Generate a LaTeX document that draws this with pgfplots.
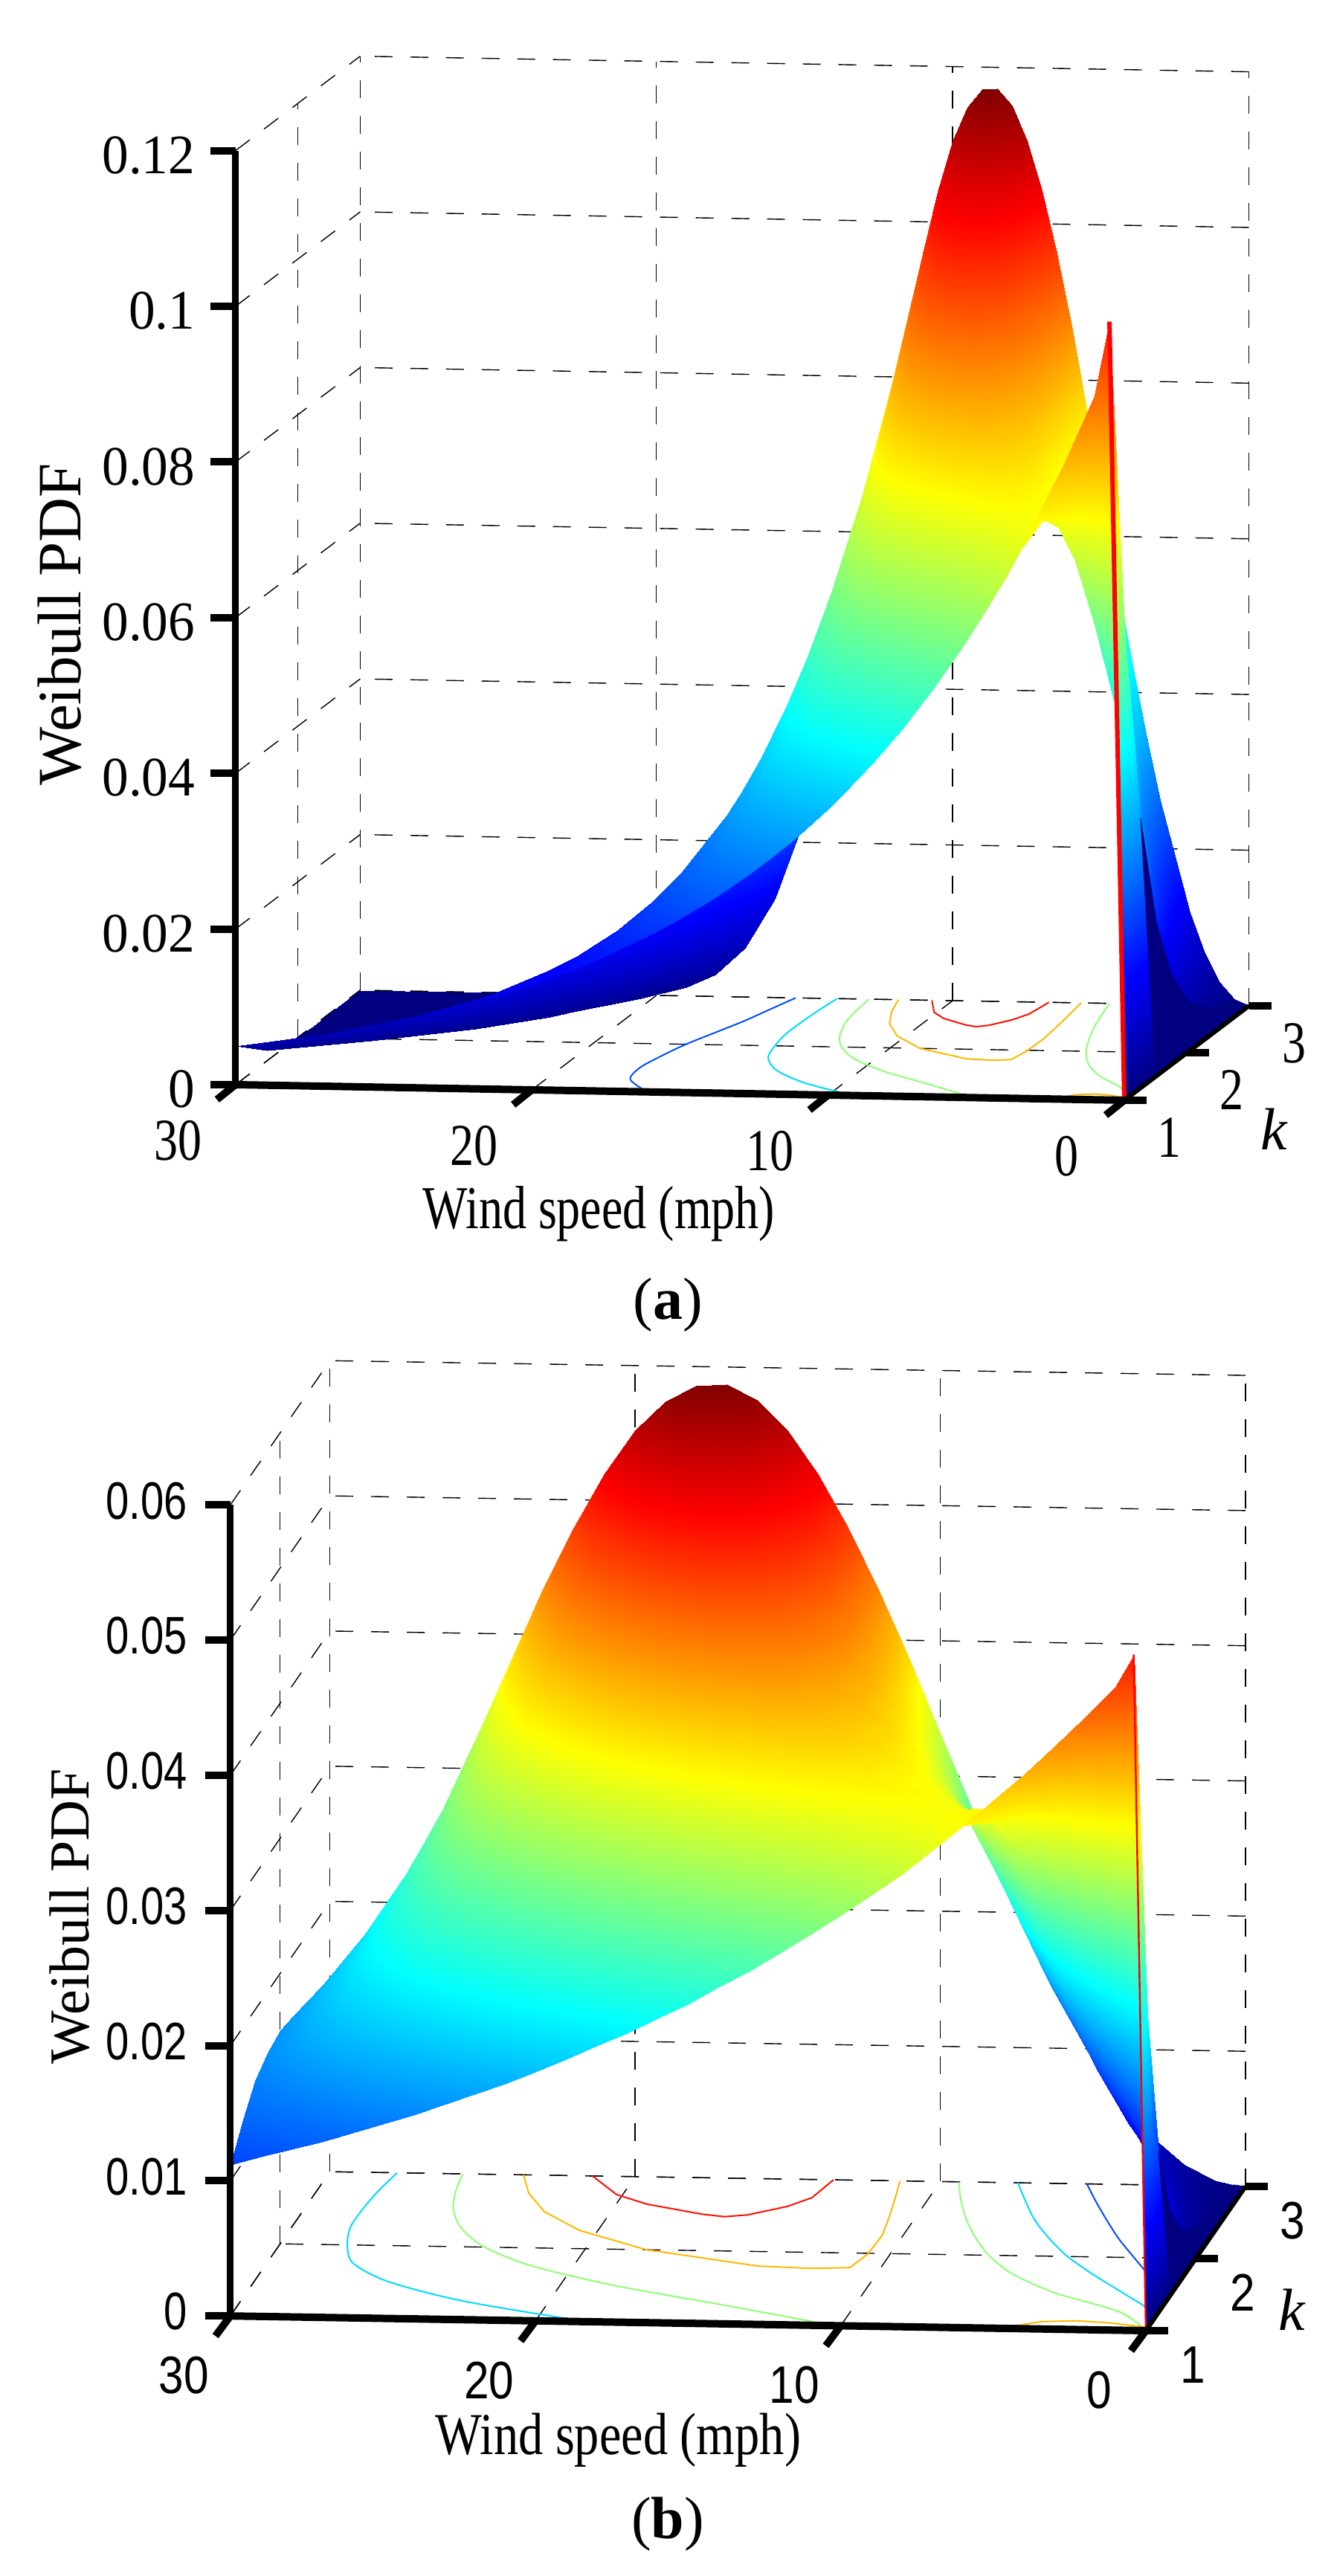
\documentclass[border=0pt]{standalone}
\usepackage{fontspec}
\setmainfont{Liberation Serif}
\newfontfamily\tickaz[FakeStretch=0.95]{Liberation Serif}
\newfontfamily\ticka[FakeStretch=0.8]{Liberation Serif}
\newfontfamily\tickb[FakeStretch=0.85]{Liberation Sans}
\newfontfamily\tickbz[FakeStretch=0.79]{Liberation Sans}
\newfontfamily\labx[FakeStretch=0.78]{Liberation Serif}
\newfontfamily\labxb[FakeStretch=0.83]{Liberation Serif}
\usepackage{pgfplots}
\pgfplotsset{compat=1.18}

\definecolor{cblue}{rgb}{0,0.3,1}
\definecolor{ccyan}{rgb}{0,0.85,1}
\definecolor{cgreen}{rgb}{0.55,1,0.45}
\definecolor{corange}{rgb}{1,0.72,0}
\definecolor{cred}{rgb}{1,0.05,0}

\pgfplotsset{
  weibull/.style={
    clip=false,
    x dir=reverse,
    xmin=0, xmax=30, ymin=1, ymax=3,
    xtick={0,10,20,30}, ytick={1,2,3},
    xticklabels={0,10,20,30}, yticklabels={1,2,3},
    scaled ticks=false,
    colormap/jet,
    grid=major,
    grid style={black, line width=0.7pt, dash pattern=on 12pt off 12pt},
    axis line style={draw=none},
    tick align=outside,
    major tick length=16pt,
    tick style={draw=none},
    anchor=origin,
  },
  wsurf/.style={surf, shader=interp, z buffer=sort, point meta=z},
  navy/.style={surf, shader=flat, mesh/cols=2, point meta={0}},
}

\begin{document}
\begin{tikzpicture}
\path[use as bounding box] (0,0) rectangle (897pt,1732.5pt);

% panel a
\begin{axis}[
  weibull,
  at={(756pt,992.5pt)},
  x={(19.92pt,-0.35pt)}, y={(41.9pt,31.75pt)}, z={(0pt,5235pt)},
  zmin=0, zmax=0.12,
  ztick={0,0.02,0.04,0.06,0.08,0.1,0.12},
  zticklabels={0,0.02,0.04,0.06,0.08,0.1,0.12},
  xticklabel style={font=\fontsize{40}{44}\selectfont\ticka, xshift=-17.5pt, yshift=-11pt},
  yticklabel style={font=\fontsize{40}{44}\selectfont\ticka, yshift=-10pt},
  zticklabel style={font=\fontsize{37.5}{44}\selectfont\tickaz, anchor=east, xshift=-11pt, yshift=6.5pt},
  xlabel={Wind speed (mph)}, ylabel={\textit{k}}, zlabel={Weibull PDF},
  xlabel style={font=\fontsize{41}{44}\selectfont\labx, xshift=-8.5pt, yshift=11pt},
  ylabel style={font=\fontsize{40}{44}\selectfont, xshift=-1pt, yshift=10pt},
  zlabel style={font=\fontsize{41.5}{44}\selectfont, xshift=31pt, yshift=9.5pt},
]
\addplot3[cblue, line width=1pt, smooth] coordinates {(16.1,1,0)(17.2,1.25,0)(17.4,1.5,0)(17.2,1.75,0)(16.9,2,0)(16.45,2.25,0)(16,2.5,0)(15.65,2.75,0)(15.3,3,0)};
\addplot3[cblue, line width=1pt, smooth] coordinates {(0,1,0)(0.01,1.25,0)(0.18,1.5,0)(0.56,1.75,0)(1.01,2,0)(1.46,2.25,0)(1.86,2.5,0)(2.24,2.75,0)(2.6,3,0)};
\addplot3[ccyan, line width=1pt, smooth] coordinates {(9.16,1,0)(11.35,1.25,0)(12.8,1.5,0)(13.6,1.75,0)(13.9,2,0)(14.05,2.25,0)(14.05,2.5,0)(14,2.75,0)(13.9,3,0)};
\addplot3[ccyan, line width=1pt, smooth] coordinates {(0,1,0)(0.11,1.25,0)(0.76,1.5,0)(1.46,1.75,0)(2.1,2,0)(2.61,2.25,0)(3.05,2.5,0)(3.4,2.75,0)(3.73,3,0)};
\addplot3[cgreen, line width=1pt, smooth] coordinates {(5.1,1,0)(7.06,1.25,0)(9.1,1.5,0)(10.66,1.75,0)(11.65,2,0)(12.23,2.25,0)(12.57,2.5,0)(12.74,2.75,0)(12.82,3,0)};
\addplot3[cgreen, line width=1pt, smooth] coordinates {(0,1,0)(0.63,1.25,0)(1.9,1.5,0)(2.8,1.75,0)(3.39,2,0)(3.82,2.25,0)(4.17,2.5,0)(4.46,2.75,0)(4.7,3,0)};
\addplot3[corange, line width=1pt] coordinates {(2.23,1,0)(2.1,1.05,0)(1.8,1.1,0)(1.25,1.12,0)(0.7,1.1,0)(0.05,1.05,0)(0,1,0)};
\addplot3[corange, line width=1pt] coordinates {(5.66,3,0)(5.54,2.75,0)(5.43,2.5,0)(5.34,2.25,0)(5.36,2,0)(5.5,1.8,0)(6.1,1.78,0)(7,1.8,0)(9,2,0)(10.3,2.25,0)(11.08,2.5,0)(11.54,2.75,0)(11.83,3,0)};
\addplot3[cred, line width=1pt] coordinates {(6.75,3,0)(6.9,2.75,0)(7.2,2.625,0)(7.75,2.5,0)(8.1,2.47,0)(8.5,2.5,0)(9.5,2.625,0)(10.1,2.75,0)(10.7,3,0)};

\addplot3[wsurf, mesh/cols=39] coordinates {
(0,1,0)(0.5,1,0.1000)(1,1,0.0905)(1.5,1,0.0861)(2,1,0.0819)(3,1,0.0741)(3.5,1,0.0705)(4,1,0.0670)(4.5,1,0.0638)(5,1,0.0607)(5.5,1,0.0577)(6,1,0.0549)(6.5,1,0.0522)(7,1,0.0497)(7.5,1,0.0472)(8,1,0.0449)(8.5,1,0.0427)(9,1,0.0407)(9.5,1,0.0387)(10,1,0.0368)(10.5,1,0.0350)(11,1,0.0333)(11.5,1,0.0317)(12,1,0.0301)(12.5,1,0.0287)(13,1,0.0273)(13.5,1,0.0259)(14,1,0.0247)(14.5,1,0.0235)(15,1,0.0223)(16,1,0.0202)(17,1,0.0183)(18,1,0.0165)(19,1,0.0150)(20,1,0.0135)(22,1,0.0111)(24,1,0.0091)(27,1,0.0067)(30,1,0.0050)

(0,1.25,0)(0.5,1.25,0.0577)(1,1.25,0.0664)(1.5,1.25,0.0708)(2,1.25,0.0731)(3,1.25,0.0741)(3.5,1.25,0.0734)(4,1.25,0.0723)(4.5,1.25,0.0707)(5,1.25,0.0691)(5.5,1.25,0.0669)(6,1.25,0.0649)(6.5,1.25,0.0626)(7,1.25,0.0603)(7.5,1.25,0.0580)(8,1.25,0.0555)(8.5,1.25,0.0530)(9,1.25,0.0506)(9.5,1.25,0.0482)(10,1.25,0.0460)(10.5,1.25,0.0436)(11,1.25,0.0415)(11.5,1.25,0.0394)(12,1.25,0.0373)(12.5,1.25,0.0353)(13,1.25,0.0333)(13.5,1.25,0.0314)(14,1.25,0.0296)(14.5,1.25,0.0280)(15,1.25,0.0263)(16,1.25,0.0232)(17,1.25,0.0206)(18,1.25,0.0180)(19,1.25,0.0157)(20,1.25,0.0138)(22,1.25,0.0104)(24,1.25,0.0078)(27,1.25,0.0050)(30,1.25,0.0032)

(0,1.5,0)(0.5,1.5,0.0332)(1,1.5,0.0460)(1.5,1.5,0.0548)(2,1.5,0.0613)(3,1.5,0.0697)(3.5,1.5,0.0721)(4,1.5,0.0737)(4.5,1.5,0.0744)(5,1.5,0.0745)(5.5,1.5,0.0740)(6,1.5,0.0730)(6.5,1.5,0.0716)(7,1.5,0.0699)(7.5,1.5,0.0678)(8,1.5,0.0656)(8.5,1.5,0.0632)(9,1.5,0.0606)(9.5,1.5,0.0579)(10,1.5,0.0552)(10.5,1.5,0.0524)(11,1.5,0.0496)(11.5,1.5,0.0468)(12,1.5,0.0441)(12.5,1.5,0.0414)(13,1.5,0.0388)(13.5,1.5,0.0363)(14,1.5,0.0339)(14.5,1.5,0.0314)(15,1.5,0.0293)(16,1.5,0.0251)(17,1.5,0.0213)(18,1.5,0.0180)(19,1.5,0.0151)(20,1.5,0.0125)(22,1.5,0.0085)(24,1.5,0.0056)(27,1.5,0.0029)(30,1.5,0.0014)

(0,1.75,0)(0.5,1.75,0.0184)(1,1.75,0.0306)(1.5,1.75,0.0407)(2,1.75,0.0493)(3,1.75,0.0628)(3.5,1.75,0.0679)(4,1.75,0.0720)(4.5,1.75,0.0750)(5,1.75,0.0773)(5.5,1.75,0.0787)(6,1.75,0.0793)(6.5,1.75,0.0791)(7,1.75,0.0784)(7.5,1.75,0.0770)(8,1.75,0.0752)(8.5,1.75,0.0729)(9,1.75,0.0704)(9.5,1.75,0.0675)(10,1.75,0.0644)(10.5,1.75,0.0612)(11,1.75,0.0577)(11.5,1.75,0.0542)(12,1.75,0.0507)(12.5,1.75,0.0472)(13,1.75,0.0438)(13.5,1.75,0.0403)(14,1.75,0.0372)(14.5,1.75,0.0340)(15,1.75,0.0310)(16,1.75,0.0255)(17,1.75,0.0208)(18,1.75,0.0166)(19,1.75,0.0130)(20,1.75,0.0102)(22,1.75,0.0059)(24,1.75,0.0033)(27,1.75,0.0013)(30,1.75,0.0004)

(0,2,0)(0.5,2,0.0100)(1,2,0.0198)(1.5,2,0.0293)(2,2,0.0384)(3,2,0.0548)(3.5,2,0.0619)(4,2,0.0682)(4.5,2,0.0735)(5,2,0.0779)(5.5,2,0.0813)(6,2,0.0837)(6.5,2,0.0852)(7,2,0.0858)(7.5,2,0.0855)(8,2,0.0844)(8.5,2,0.0826)(9,2,0.0801)(9.5,2,0.0771)(10,2,0.0736)(10.5,2,0.0697)(11,2,0.0656)(11.5,2,0.0612)(12,2,0.0569)(12.5,2,0.0525)(13,2,0.0480)(13.5,2,0.0437)(14,2,0.0394)(14.5,2,0.0354)(15,2,0.0316)(16,2,0.0247)(17,2,0.0190)(18,2,0.0141)(19,2,0.0103)(20,2,0.0073)(22,2,0.0035)(24,2,0.0015)(27,2,0.0004)(30,2,0.0001)

(0,2.25,0)(0.5,2.25,0.0053)(1,2.25,0.0126)(1.5,2.25,0.0207)(2,2.25,0.0294)(3,2.25,0.0467)(3.5,2.25,0.0551)(4,2.25,0.0630)(4.5,2.25,0.0703)(5,2.25,0.0766)(5.5,2.25,0.0821)(6,2.25,0.0865)(6.5,2.25,0.0899)(7,2.25,0.0920)(7.5,2.25,0.0930)(8,2.25,0.0930)(8.5,2.25,0.0918)(9,2.25,0.0896)(9.5,2.25,0.0865)(10,2.25,0.0828)(10.5,2.25,0.0784)(11,2.25,0.0734)(11.5,2.25,0.0681)(12,2.25,0.0626)(12.5,2.25,0.0571)(13,2.25,0.0514)(13.5,2.25,0.0458)(14,2.25,0.0406)(14.5,2.25,0.0358)(15,2.25,0.0310)(16,2.25,0.0227)(17,2.25,0.0162)(18,2.25,0.0110)(19,2.25,0.0070)(20,2.25,0.0046)(22,2.25,0.0016)(24,2.25,0.0005)(27,2.25,0.0001)(30,2.25,0)

(0,2.5,0)(0.5,2.5,0.0028)(1,2.5,0.0079)(1.5,2.5,0.0144)(2,2.5,0.0220)(3,2.5,0.0391)(3.5,2.5,0.0482)(4,2.5,0.0572)(4.5,2.5,0.0659)(5,2.5,0.0741)(5.5,2.5,0.0815)(6,2.5,0.0879)(6.5,2.5,0.0931)(7,2.5,0.0972)(7.5,2.5,0.0997)(8,2.5,0.1009)(8.5,2.5,0.1007)(9,2.5,0.0990)(9.5,2.5,0.0961)(10,2.5,0.0920)(10.5,2.5,0.0869)(11,2.5,0.0811)(11.5,2.5,0.0746)(12,2.5,0.0679)(12.5,2.5,0.0608)(13,2.5,0.0540)(13.5,2.5,0.0471)(14,2.5,0.0407)(14.5,2.5,0.0349)(15,2.5,0.0292)(16,2.5,0.0198)(17,2.5,0.0127)(18,2.5,0.0078)(19,2.5,0.0045)(20,2.5,0.0025)(22,2.5,0.0006)(24,2.5,0.0001)(27,2.5,0)(30,2.5,0)

(0,2.75,0)(0.5,2.75,0.0015)(1,2.75,0.0049)(1.5,2.75,0.0099)(2,2.75,0.0162)(3,2.75,0.0322)(3.5,2.75,0.0414)(4,2.75,0.0510)(4.5,2.75,0.0608)(5,2.75,0.0705)(5.5,2.75,0.0795)(6,2.75,0.0880)(6.5,2.75,0.0953)(7,2.75,0.1013)(7.5,2.75,0.1056)(8,2.75,0.1083)(8.5,2.75,0.1092)(9,2.75,0.1082)(9.5,2.75,0.1056)(10,2.75,0.1012)(10.5,2.75,0.0955)(11,2.75,0.0886)(11.5,2.75,0.0808)(12,2.75,0.0726)(12.5,2.75,0.0642)(13,2.75,0.0556)(13.5,2.75,0.0475)(14,2.75,0.0397)(14.5,2.75,0.0327)(15,2.75,0.0265)(16,2.75,0.0164)(17,2.75,0.0094)(18,2.75,0.0050)(19,2.75,0.0025)(20,2.75,0.0011)(22,2.75,0.0002)(24,2.75,0)(27,2.75,0)(30,2.75,0)

(0,3,0)(0.5,3,0.0008)(1,3,0.0030)(1.5,3,0.0067)(2,3,0.0119)(3,3,0.0263)(3.5,3,0.0352)(4,3,0.0450)(4.5,3,0.0555)(5,3,0.0662)(5.5,3,0.0769)(6,3,0.0870)(6.5,3,0.0963)(7,3,0.1043)(7.5,3,0.1107)(8,3,0.1151)(8.5,3,0.1173)(9,3,0.1172)(9.5,3,0.1148)(10,3,0.1104)(10.5,3,0.1039)(11,3,0.0959)(11.5,3,0.0869)(12,3,0.0767)(12.5,3,0.0666)(13,3,0.0563)(13.5,3,0.0465)(14,3,0.0378)(14.5,3,0.0296)(15,3,0.0231)(16,3,0.0127)(17,3,0.0063)(18,3,0.0028)(19,3,0.0011)(20,3,0.0004)(22,3,0)(24,3,0)(27,3,0)(30,3,0)
};
\addplot3[navy] coordinates {
(0,1.5,0)(0.5,1.5,0.0332)

(0,1.75,0)(0.5,1.75,0.0184)

(0,2,0)(0.5,2,0.0100)

(0,2.25,0)(0.5,2.25,0.0053)

(0,2.5,0)(0.5,2.5,0.0028)

(0,2.75,0)(0.5,2.75,0.0015)

(0,3,0)(0.5,3,0.0008)
};
\addplot3[red, line width=3pt] coordinates {(0,1,0)(0.5,1,0.1)};

\draw[black, line width=5pt] (30,1,0) -- (0,1,0);
\draw[black, line width=3pt] (0,1,0) -- (0,3,0);
\draw[black, line width=4.5pt] (30,1,0) -- (30,1,0.12);
\pgfplotsinvokeforeach{0,0.02,0.04,0.06,0.08,0.1,0.12}{\draw[black, line width=5pt] (30,1,#1) -- ++(-17pt,0pt);}
\pgfplotsinvokeforeach{0,10,20,30}{\draw[black, line width=5pt] (#1,1,0) -- ++(-12.5pt,-10pt);}
\pgfplotsinvokeforeach{1,2,3}{\draw[black, line width=5pt] (0,#1,0) -- ++(15pt,0pt);}
\end{axis}
\node[font=\fontsize{40}{44}\selectfont] at (449pt,855pt) {(\textbf{a})};

% panel b
\begin{axis}[
  weibull,
  at={(770.5pt,165pt)},
  x={(20.52pt,-0.33pt)}, y={(33.5pt,48.5pt)}, z={(0pt,9091pt)},
  zmin=0, zmax=0.06,
  ztick={0,0.01,0.02,0.03,0.04,0.05,0.06},
  zticklabels={0,0.01,0.02,0.03,0.04,0.05,0.06},
  xticklabel style={font=\fontsize{35.5}{40}\selectfont\tickb, xshift=-17pt, yshift=-10.5pt},
  yticklabel style={font=\fontsize{35.5}{40}\selectfont\tickb, xshift=2pt, yshift=-9pt},
  zticklabel style={font=\fontsize{35.5}{40}\selectfont\tickbz, anchor=east, xshift=-16.5pt, yshift=16pt},
  xlabel={Wind speed (mph)}, ylabel={\textit{k}}, zlabel={Weibull PDF},
  xlabel style={font=\fontsize{40}{44}\selectfont\labxb, xshift=-19pt, yshift=11pt},
  ylabel style={font=\fontsize{40}{44}\selectfont, xshift=6.5pt, yshift=25pt},
  zlabel style={font=\fontsize{38}{44}\selectfont, xshift=43.7pt, yshift=15pt},
]
\addplot3[cblue, line width=1pt, smooth] coordinates {(0,1,0)(0.02,1.25,0)(0.36,1.5,0)(1.12,1.75,0)(2.02,2,0)(2.92,2.25,0)(3.72,2.5,0)(4.48,2.75,0)(5.2,3,0)};
\addplot3[ccyan, line width=1pt, smooth] coordinates {(18.32,1,0)(22.7,1.25,0)(25.6,1.5,0)(27.2,1.75,0)(27.8,2,0)(28.1,2.25,0)(28.1,2.5,0)(28,2.75,0)(27.8,3,0)};
\addplot3[ccyan, line width=1pt, smooth] coordinates {(0,1,0)(0.22,1.25,0)(1.52,1.5,0)(2.92,1.75,0)(4.2,2,0)(5.22,2.25,0)(6.1,2.5,0)(6.8,2.75,0)(7.46,3,0)};
\addplot3[cgreen, line width=1pt, smooth] coordinates {(10.2,1,0)(14.12,1.25,0)(18.2,1.5,0)(21.32,1.75,0)(23.3,2,0)(24.46,2.25,0)(25.14,2.5,0)(25.48,2.75,0)(25.64,3,0)};
\addplot3[cgreen, line width=1pt, smooth] coordinates {(0,1,0)(1.26,1.25,0)(3.8,1.5,0)(5.6,1.75,0)(6.78,2,0)(7.64,2.25,0)(8.34,2.5,0)(8.92,2.75,0)(9.4,3,0)};
\addplot3[corange, line width=1pt] coordinates {(4.46,1,0)(4.2,1.05,0)(3.6,1.1,0)(2.5,1.12,0)(1.4,1.1,0)(0.1,1.05,0)(0,1,0)};
\addplot3[corange, line width=1pt] coordinates {(11.32,3,0)(11.08,2.75,0)(10.86,2.5,0)(10.68,2.25,0)(10.72,2,0)(11,1.8,0)(12.2,1.78,0)(14,1.8,0)(18,2,0)(20.6,2.25,0)(22.16,2.5,0)(23.08,2.75,0)(23.66,3,0)};
\addplot3[cred, line width=1pt] coordinates {(13.5,3,0)(13.8,2.75,0)(14.4,2.625,0)(15.5,2.5,0)(16.2,2.47,0)(17,2.5,0)(19,2.625,0)(20.2,2.75,0)(21.4,3,0)};

\addplot3[wsurf, mesh/cols=31] coordinates {
(0,1,0)(0.4,1,0.0500)(1,1,0.0476)(2,1,0.0453)(3,1,0.0431)(4,1,0.0410)(6,1,0.0371)(7,1,0.0353)(8,1,0.0335)(9,1,0.0319)(10,1,0.0304)(11,1,0.0289)(12,1,0.0275)(13,1,0.0261)(14,1,0.0249)(15,1,0.0236)(16,1,0.0225)(17,1,0.0214)(18,1,0.0204)(19,1,0.0194)(20,1,0.0184)(21,1,0.0175)(22,1,0.0167)(23,1,0.0159)(24,1,0.0151)(25,1,0.0144)(26,1,0.0137)(27,1,0.0130)(28,1,0.0124)(29,1,0.0118)(30,1,0.0112)

(0,1.25,0)(0.4,1.25,0.0233)(1,1.25,0.0289)(2,1.25,0.0332)(3,1.25,0.0354)(4,1.25,0.0366)(6,1.25,0.0371)(7,1.25,0.0367)(8,1.25,0.0362)(9,1.25,0.0354)(10,1.25,0.0346)(11,1.25,0.0335)(12,1.25,0.0325)(13,1.25,0.0313)(14,1.25,0.0302)(15,1.25,0.0290)(16,1.25,0.0278)(17,1.25,0.0265)(18,1.25,0.0253)(19,1.25,0.0241)(20,1.25,0.0230)(21,1.25,0.0218)(22,1.25,0.0208)(23,1.25,0.0197)(24,1.25,0.0187)(25,1.25,0.0177)(26,1.25,0.0167)(27,1.25,0.0157)(28,1.25,0.0148)(29,1.25,0.0140)(30,1.25,0.0132)

(0,1.5,0)(0.4,1.5,0.0106)(1,1.5,0.0166)(2,1.5,0.0230)(3,1.5,0.0274)(4,1.5,0.0307)(6,1.5,0.0349)(7,1.5,0.0361)(8,1.5,0.0369)(9,1.5,0.0372)(10,1.5,0.0373)(11,1.5,0.0370)(12,1.5,0.0365)(13,1.5,0.0358)(14,1.5,0.0350)(15,1.5,0.0339)(16,1.5,0.0328)(17,1.5,0.0316)(18,1.5,0.0303)(19,1.5,0.0290)(20,1.5,0.0276)(21,1.5,0.0262)(22,1.5,0.0248)(23,1.5,0.0234)(24,1.5,0.0221)(25,1.5,0.0207)(26,1.5,0.0194)(27,1.5,0.0182)(28,1.5,0.0170)(29,1.5,0.0157)(30,1.5,0.0147)

(0,1.75,0)(0.4,1.75,0.0047)(1,1.75,0.0092)(2,1.75,0.0153)(3,1.75,0.0204)(4,1.75,0.0247)(6,1.75,0.0314)(7,1.75,0.0340)(8,1.75,0.0360)(9,1.75,0.0375)(10,1.75,0.0387)(11,1.75,0.0394)(12,1.75,0.0397)(13,1.75,0.0396)(14,1.75,0.0392)(15,1.75,0.0385)(16,1.75,0.0376)(17,1.75,0.0365)(18,1.75,0.0352)(19,1.75,0.0338)(20,1.75,0.0322)(21,1.75,0.0306)(22,1.75,0.0289)(23,1.75,0.0271)(24,1.75,0.0254)(25,1.75,0.0236)(26,1.75,0.0219)(27,1.75,0.0202)(28,1.75,0.0186)(29,1.75,0.0170)(30,1.75,0.0155)

(0,2,0)(0.4,2,0.0020)(1,2,0.0050)(2,2,0.0099)(3,2,0.0147)(4,2,0.0192)(6,2,0.0274)(7,2,0.0310)(8,2,0.0341)(9,2,0.0368)(10,2,0.0390)(11,2,0.0407)(12,2,0.0419)(13,2,0.0426)(14,2,0.0429)(15,2,0.0428)(16,2,0.0422)(17,2,0.0413)(18,2,0.0401)(19,2,0.0386)(20,2,0.0368)(21,2,0.0349)(22,2,0.0328)(23,2,0.0306)(24,2,0.0285)(25,2,0.0263)(26,2,0.0240)(27,2,0.0219)(28,2,0.0197)(29,2,0.0177)(30,2,0.0158)

(0,2.25,0)(0.4,2.25,0.0009)(1,2.25,0.0027)(2,2.25,0.0063)(3,2.25,0.0104)(4,2.25,0.0147)(6,2.25,0.0234)(7,2.25,0.0276)(8,2.25,0.0315)(9,2.25,0.0352)(10,2.25,0.0383)(11,2.25,0.0411)(12,2.25,0.0433)(13,2.25,0.0450)(14,2.25,0.0460)(15,2.25,0.0465)(16,2.25,0.0465)(17,2.25,0.0459)(18,2.25,0.0448)(19,2.25,0.0433)(20,2.25,0.0414)(21,2.25,0.0392)(22,2.25,0.0367)(23,2.25,0.0341)(24,2.25,0.0313)(25,2.25,0.0286)(26,2.25,0.0257)(27,2.25,0.0229)(28,2.25,0.0203)(29,2.25,0.0179)(30,2.25,0.0155)

(0,2.5,0)(0.4,2.5,0.0004)(1,2.5,0.0014)(2,2.5,0.0040)(3,2.5,0.0072)(4,2.5,0.0110)(6,2.5,0.0196)(7,2.5,0.0241)(8,2.5,0.0286)(9,2.5,0.0330)(10,2.5,0.0371)(11,2.5,0.0408)(12,2.5,0.0440)(13,2.5,0.0466)(14,2.5,0.0486)(15,2.5,0.0499)(16,2.5,0.0505)(17,2.5,0.0504)(18,2.5,0.0495)(19,2.5,0.0481)(20,2.5,0.0460)(21,2.5,0.0435)(22,2.5,0.0406)(23,2.5,0.0373)(24,2.5,0.0340)(25,2.5,0.0304)(26,2.5,0.0270)(27,2.5,0.0236)(28,2.5,0.0204)(29,2.5,0.0175)(30,2.5,0.0146)

(0,2.75,0)(0.4,2.75,0.0002)(1,2.75,0.0008)(2,2.75,0.0025)(3,2.75,0.0050)(4,2.75,0.0081)(6,2.75,0.0161)(7,2.75,0.0207)(8,2.75,0.0255)(9,2.75,0.0304)(10,2.75,0.0353)(11,2.75,0.0398)(12,2.75,0.0440)(13,2.75,0.0477)(14,2.75,0.0507)(15,2.75,0.0528)(16,2.75,0.0542)(17,2.75,0.0546)(18,2.75,0.0541)(19,2.75,0.0528)(20,2.75,0.0506)(21,2.75,0.0478)(22,2.75,0.0443)(23,2.75,0.0404)(24,2.75,0.0363)(25,2.75,0.0321)(26,2.75,0.0278)(27,2.75,0.0238)(28,2.75,0.0199)(29,2.75,0.0164)(30,2.75,0.0133)

(0,3,0)(0.4,3,0.0001)(1,3,0.0004)(2,3,0.0015)(3,3,0.0034)(4,3,0.0060)(6,3,0.0132)(7,3,0.0176)(8,3,0.0225)(9,3,0.0278)(10,3,0.0331)(11,3,0.0385)(12,3,0.0435)(13,3,0.0482)(14,3,0.0522)(15,3,0.0554)(16,3,0.0576)(17,3,0.0587)(18,3,0.0586)(19,3,0.0574)(20,3,0.0552)(21,3,0.0520)(22,3,0.0480)(23,3,0.0435)(24,3,0.0384)(25,3,0.0333)(26,3,0.0282)(27,3,0.0233)(28,3,0.0189)(29,3,0.0148)(30,3,0.0116)
};
\addplot3[navy] coordinates {
(0,1.5,0)(0.4,1.5,0.0106)

(0,1.75,0)(0.4,1.75,0.0047)

(0,2,0)(0.4,2,0.0020)

(0,2.25,0)(0.4,2.25,0.0009)

(0,2.5,0)(0.4,2.5,0.0004)

(0,2.75,0)(0.4,2.75,0.0002)

(0,3,0)(0.4,3,0.0001)
};
\addplot3[red, line width=1.2pt] coordinates {(0,1,0)(0.4,1,0.05)};

\draw[black, line width=5pt] (30,1,0) -- (0,1,0);
\draw[black, line width=3pt] (0,1,0) -- (0,3,0);
\draw[black, line width=4.5pt] (30,1,0) -- (30,1,0.06);
\pgfplotsinvokeforeach{0,0.01,0.02,0.03,0.04,0.05,0.06}{\draw[black, line width=5pt] (30,1,#1) -- ++(-17pt,0pt);}
\pgfplotsinvokeforeach{0,10,20,30}{\draw[black, line width=5pt] (#1,1,0) -- ++(-10pt,-13.5pt);}
\pgfplotsinvokeforeach{1,2,3}{\draw[black, line width=5pt] (0,#1,0) -- ++(15pt,0pt);}
\end{axis}
\node[font=\fontsize{40}{44}\selectfont] at (449pt,35pt) {(\textbf{b})};
\end{tikzpicture}
\end{document}
